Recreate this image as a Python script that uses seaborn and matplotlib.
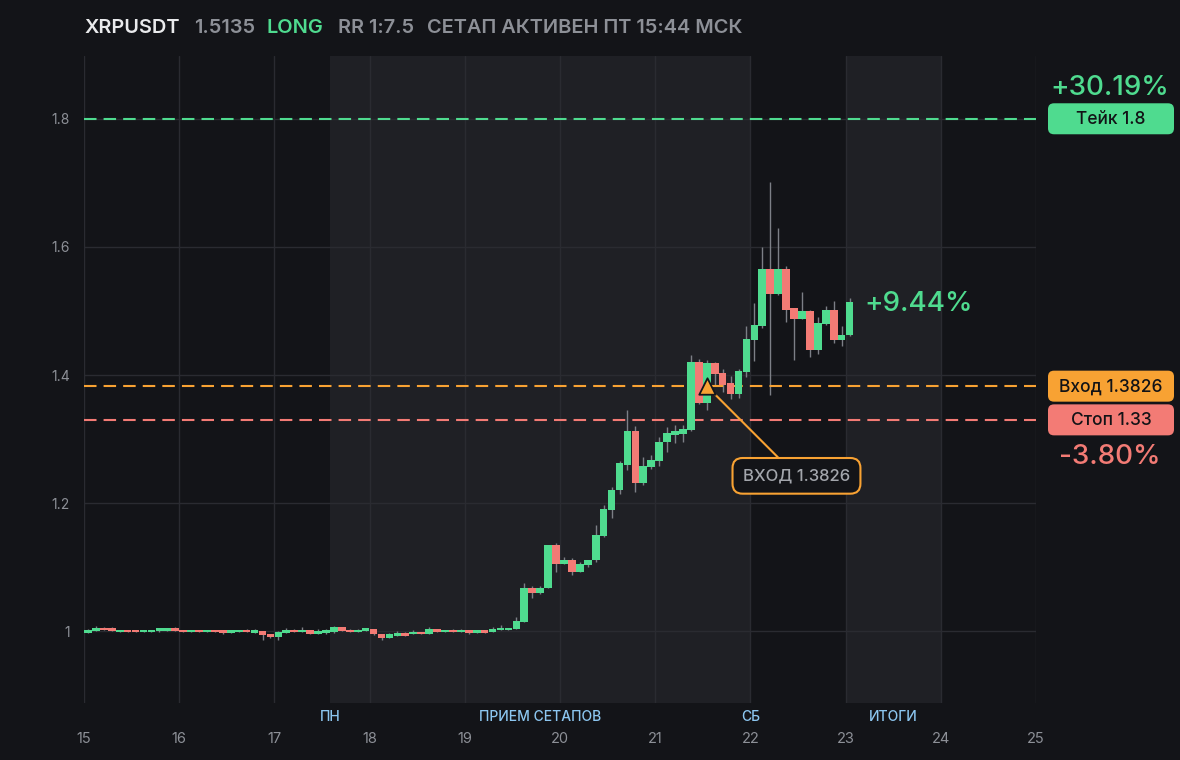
import numpy as np
import pandas as pd
import seaborn as sns
import matplotlib.pyplot as plt
from matplotlib.patches import FancyBboxPatch
from matplotlib.ticker import FuncFormatter

# 2h candles, 15th 00:00 .. 23rd
opens = [0.998, 1.001, 1.005, 1.004, 0.999, 1.002, 1.002, 0.999, 0.999, 1.001, 1.001, 1.004,
         1.002, 0.999, 1.002, 0.999, 1.002, 1.001, 0.998, 0.999, 1.002, 0.998, 1.001, 0.996,
         0.991, 0.998, 1.002, 0.999, 1.002, 0.996, 0.998, 0.999, 1.007, 1.002, 0.999, 1.001,
         1.004, 0.996, 0.990, 0.993, 0.996, 0.995, 0.999, 0.996, 1.004, 0.999, 1.002, 0.999,
         1.002, 0.998, 1.000, 0.999, 1.002, 1.002, 1.004, 1.015, 1.068, 1.060, 1.067, 1.134,
         1.105, 1.112, 1.093, 1.104, 1.111, 1.149, 1.190, 1.220, 1.260, 1.312, 1.232, 1.257,
         1.266, 1.296, 1.307, 1.308, 1.314, 1.421, 1.357, 1.418, 1.403, 1.387, 1.370, 1.405,
         1.454, 1.476, 1.565, 1.527, 1.565, 1.504, 1.488, 1.500, 1.439, 1.480, 1.502, 1.454,
         1.462]
closes = [1.002, 1.005, 1.002, 1.001, 1.002, 0.999, 0.999, 1.002, 1.002, 1.004, 1.004, 1.001,
          0.999, 1.002, 0.999, 1.002, 0.999, 0.998, 1.001, 1.002, 0.999, 1.001, 0.9945, 0.991,
          0.999, 1.002, 0.999, 1.002, 0.996, 1.001, 1.001, 1.007, 1.001, 0.999, 1.002, 1.004,
          0.995, 0.990, 0.995, 0.996, 0.993, 0.999, 0.996, 1.004, 0.999, 1.002, 0.999, 1.002,
          0.998, 1.000, 0.998, 1.004, 1.005, 1.005, 1.016, 1.068, 1.060, 1.068, 1.134, 1.105,
          1.112, 1.093, 1.105, 1.112, 1.151, 1.191, 1.221, 1.262, 1.312, 1.232, 1.258, 1.268,
          1.296, 1.310, 1.312, 1.315, 1.421, 1.357, 1.418, 1.402, 1.385, 1.370, 1.407, 1.456,
          1.478, 1.565, 1.527, 1.565, 1.502, 1.488, 1.500, 1.439, 1.481, 1.502, 1.454, 1.463,
          1.5135]
highs = [1.003, 1.008, 1.007, 1.007, 1.002, 1.002, 1.002, 1.002, 1.002, 1.005, 1.004, 1.007,
         1.002, 1.002, 1.002, 1.002, 1.002, 1.001, 1.001, 1.002, 1.004, 1.003, 1.001, 0.996,
         1.000, 1.005, 1.004, 1.006, 1.002, 1.003, 1.003, 1.008, 1.007, 1.004, 1.004, 1.005,
         1.004, 0.996, 0.997, 1.000, 0.999, 1.002, 0.999, 1.007, 1.004, 1.002, 1.003, 1.004,
         1.002, 1.000, 1.000, 1.006, 1.009, 1.005, 1.023, 1.076, 1.070, 1.071, 1.134, 1.137,
         1.116, 1.114, 1.108, 1.112, 1.166, 1.197, 1.225, 1.265, 1.345, 1.320, 1.272, 1.275,
         1.303, 1.319, 1.322, 1.322, 1.432, 1.425, 1.423, 1.420, 1.410, 1.399, 1.410, 1.477,
         1.512, 1.600, 1.701, 1.630, 1.570, 1.505, 1.530, 1.502, 1.490, 1.508, 1.516, 1.477,
         1.521]
lows = [0.998, 1.000, 1.002, 1.000, 0.999, 0.999, 0.999, 0.999, 0.999, 0.999, 1.001, 1.001,
        0.999, 0.999, 0.999, 0.999, 0.999, 0.996, 0.998, 0.999, 0.999, 0.998, 0.987, 0.990,
        0.987, 0.998, 0.999, 0.999, 0.996, 0.996, 0.996, 0.997, 1.001, 0.999, 0.999, 1.001,
        0.994, 0.987, 0.990, 0.993, 0.992, 0.995, 0.996, 0.996, 0.999, 0.999, 0.999, 0.999,
        0.995, 0.998, 0.998, 0.999, 1.002, 1.002, 1.004, 1.015, 1.052, 1.058, 1.067, 1.093,
        1.105, 1.088, 1.093, 1.100, 1.108, 1.147, 1.177, 1.215, 1.252, 1.218, 1.229, 1.253,
        1.258, 1.280, 1.294, 1.295, 1.312, 1.355, 1.345, 1.385, 1.373, 1.362, 1.364, 1.397,
        1.422, 1.474, 1.369, 1.525, 1.483, 1.424, 1.487, 1.428, 1.433, 1.478, 1.450, 1.445,
        1.461]

entry_price = 1.3826
stop_price = 1.33
take_price = 1.8
entry_candle = 79  # candle index (1-based) where the entry triangle sits

day_ticks = list(range(15, 26))
price_ticks = [1.0, 1.2, 1.4, 1.6, 1.8]
bands = [(17.583, 22.0), (23.0, 24.0)]
band_labels = ['ПН', 'ПРИЕМ СЕТАПОВ', 'СБ', 'ИТОГИ']
band_label_x = [17.583, 19.79, 22.0, 23.5]

header = [('XRPUSDT', '#e9eaec'), ('1.5135', '#8d9097'), ('LONG', '#4fdb8f'),
          ('RR 1:7.5', '#8d9097'), ('СЕТАП АКТИВЕН ПТ 15:44 МСК', '#8d9097')]
header_x = [84, 194, 266, 338, 427]

# colours
BG = '#131418'
BAND = '#1f2025'
GRID = '#2a2b31'
GREEN = '#4fdb8f'
RED = '#f37b75'
ORANGE = '#f8a233'
TXT = '#8d9097'
BLUE = '#8cc6f0'

df = pd.DataFrame({'open': opens, 'high': highs, 'low': lows, 'close': closes})
df['t'] = 15 + (np.arange(len(df)) + 0.5) / 12
df['up'] = df['close'] >= df['open']
df['bottom'] = df[['open', 'close']].min(axis=1)
df['height'] = (df['close'] - df['open']).abs().clip(lower=0.0035)

sns.set_theme(style='dark', rc={'figure.facecolor': BG, 'axes.facecolor': BG,
                                'savefig.facecolor': BG})
plt.rcParams['font.family'] = ['Inter', 'DejaVu Sans']

fig = plt.figure(figsize=(11.8, 7.6), dpi=100)
ax = fig.add_axes([84 / 1180, 57 / 760, 952 / 1180, 647 / 760])
ax.set_xlim(15, 25)
ax.set_ylim(0.888, 1.898)

for a, b in bands:
    ax.axvspan(a, b, color=BAND, lw=0, zorder=0)

ax.set_xticks(day_ticks)
ax.set_yticks(price_ticks)
ax.yaxis.set_major_formatter(FuncFormatter(lambda v, p: f'{v:g}'))
ax.grid(True, color=GRID, lw=1)
ax.set_axisbelow(True)
for s in ax.spines.values():
    s.set_visible(False)
ax.tick_params(axis='both', length=0, colors=TXT, labelsize=10)
ax.tick_params(axis='x', pad=21, labelsize=10.5)
ax.tick_params(axis='y', pad=10)

# wicks + bodies
ax.vlines(df['t'], df['low'], df['high'], color='#7c7f86', lw=1, zorder=2)
colors = np.where(df['up'], GREEN, RED)
ax.bar(df['t'], df['height'], bottom=df['bottom'], width=0.96 / 12,
       color=colors, lw=0, zorder=3)

# levels
dash = (0, (6, 3.4))
ax.axhline(take_price, color=GREEN, lw=1.5, ls=dash, zorder=2.5)
ax.axhline(entry_price, color=ORANGE, lw=1.5, ls=dash, zorder=2.5)
ax.axhline(stop_price, color=RED, lw=1.5, ls=dash, zorder=2.5)

entry_t = df['t'].iloc[entry_candle - 1]
sns.scatterplot(x=[entry_t], y=[entry_price], marker='^', s=140, color=ORANGE,
                edgecolor='#15161a', linewidth=1.3, zorder=6, ax=ax, legend=False)
ax.annotate('ВХОД 1.3826', xy=(entry_t, entry_price), xytext=(22.484, 1.2426),
            ha='center', va='center', color='#a3a6ac', fontsize=12, fontweight='medium',
            bbox=dict(boxstyle='round,pad=0.62,rounding_size=0.6', fc=BG, ec=ORANGE, lw=1.5),
            arrowprops=dict(arrowstyle='-', color=ORANGE, lw=1.5, shrinkA=0, shrinkB=8),
            zorder=5)

ax.text(df['t'].iloc[-1] + 0.16, df['close'].iloc[-1] - 0.003, '+9.44%', color=GREEN,
        fontsize=20, fontweight='medium', ha='left', va='center')

# band labels under the plot
trans = ax.get_xaxis_transform()
for lab, x in zip(band_labels, band_label_x):
    ax.text(x, -0.022, lab, transform=trans, ha='center', va='center',
            color=BLUE, fontsize=10, fontweight='medium')

# overlay in pixel coordinates for header and right-hand labels
ov = fig.add_axes([0, 0, 1, 1])
ov.set_xlim(0, 1180)
ov.set_ylim(760, 0)
ov.axis('off')
ov.patch.set_alpha(0)

for (txt, col), x in zip(header, header_x):
    ov.text(x, 28, txt, color=col, fontsize=14.4, fontweight='semibold', ha='left', va='center')


def px_y(price):
    return 760 - ax.transData.transform((15, price))[1]


def level_box(price, label, fc):
    yc = px_y(price)
    ov.add_patch(FancyBboxPatch((1048, yc - 15.5), 126, 31,
                                boxstyle='round,pad=0,rounding_size=6', fc=fc, ec='none'))
    ov.text(1111, yc + 0.5, label, color='#121316', fontsize=12.5, fontweight='medium',
            ha='center', va='center')


level_box(take_price, 'Тейк 1.8', GREEN)
level_box(entry_price, 'Вход 1.3826', ORANGE)
level_box(stop_price, 'Стоп 1.33', RED)
ov.text(1110, px_y(take_price) - 31, '+30.19%', color=GREEN, fontsize=20,
        fontweight='medium', ha='center', va='center')
ov.text(1110, px_y(stop_price) + 37, '-3.80%', color=RED, fontsize=20,
        fontweight='medium', ha='center', va='center')

fig.savefig('out.png', dpi=100)
